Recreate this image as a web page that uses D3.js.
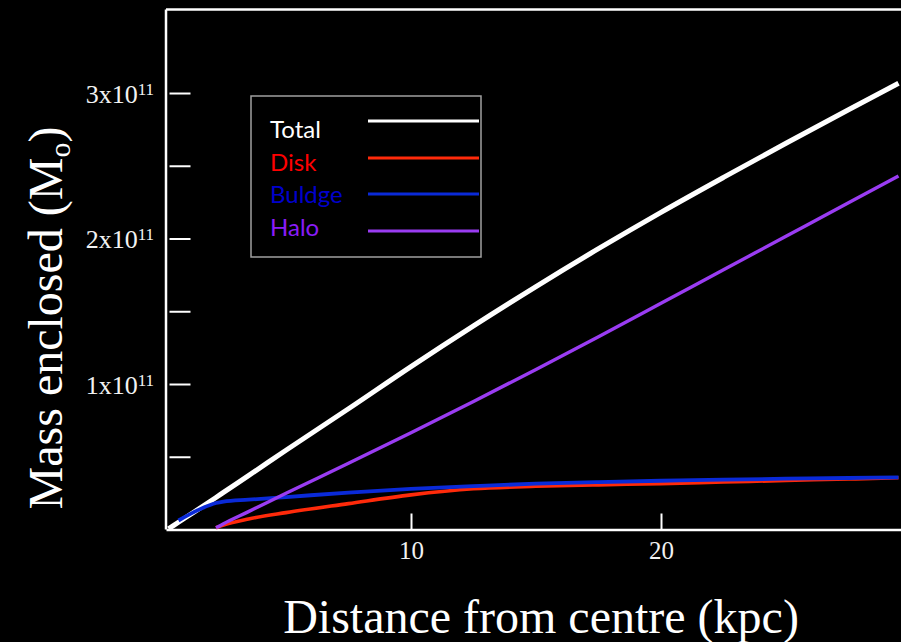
<!DOCTYPE html>
<html>
<head>
<meta charset="utf-8">
<script src="https://cdn.jsdelivr.net/npm/d3@7"></script>
<style>
  html, body { margin: 0; padding: 0; background: #000; }
  svg { display: block; }
</style>
</head>
<body>
<script>
// Enclosed mass of the galaxy by component (units of 1e11 solar masses)
const radius = [0.3, 0.7, 1.5, 2.2, 2.5, 3.5, 5, 7.5, 10, 12.5, 15, 17.5, 20, 22.5, 25, 27.5, 29.5];
const total  = [0.005, 0.05, 0.14, 0.22, 0.255, 0.37, 0.545, 0.83, 1.12, 1.40, 1.67, 1.93, 2.18, 2.42, 2.655, 2.885, 3.067];
const disk   = [null, null, null, 0.012, 0.03, 0.072, 0.116, 0.178, 0.238, 0.28, 0.297, 0.307, 0.315, 0.326, 0.337, 0.347, 0.356];
const bulge  = [null, 0.062, 0.135, 0.182, 0.192, 0.205, 0.223, 0.254, 0.279, 0.298, 0.315, 0.326, 0.335, 0.343, 0.349, 0.354, 0.358];
const halo   = [null, null, null, 0.012, 0.04, 0.123, 0.249, 0.455, 0.665, 0.88, 1.10, 1.325, 1.555, 1.785, 2.015, 2.245, 2.43];

const seriesNames  = ["Total", "Disk", "Buldge", "Halo"];
const seriesValues = [total, disk, bulge, halo];
const lineColors   = ["#ffffff", "#ff2a0a", "#0a2ad8", "#9a3cf2"];
const labelColors  = ["#ffffff", "#ff0000", "#0000cc", "#8a1cf8"];
const lineWidths   = [5, 3.6, 3.8, 3.4];

const yMajorTicks = [1, 2, 3];
const yMinorTicks = [0.5, 1.5, 2.5];
const xTicks = [10, 20];

const W = 901, H = 642;
const svg = d3.select("body").append("svg").attr("width", W).attr("height", H);
svg.append("rect").attr("width", W).attr("height", H).attr("fill", "#000");

const x = d3.scaleLinear().domain([0.2, 29.6]).range([166, 901]);
const y = d3.scaleLinear().domain([0, 3.574]).range([529.5, 9.5]);

const serif = "'Liberation Serif', 'Times New Roman', serif";

// Frame: left and top edges
svg.append("line").attr("x1", 166).attr("x2", 166).attr("y1", 9.5).attr("y2", 529.5)
  .attr("stroke", "#fff").attr("stroke-width", 2.5);
svg.append("line").attr("x1", 166).attr("x2", 901).attr("y1", 9.5).attr("y2", 9.5)
  .attr("stroke", "#fff").attr("stroke-width", 2.5);

// Y ticks point inward, labels drawn separately with superscript exponents
const yAxis = svg.append("g").attr("transform", "translate(169.5,0)")
  .call(d3.axisRight(y).tickValues(yMajorTicks.concat(yMinorTicks)).tickSize(21).tickFormat(""));
yAxis.select(".domain").remove();
yAxis.selectAll(".tick line").attr("stroke", "#fff").attr("stroke-width", 2);

const yLab = svg.append("g");
yMajorTicks.forEach(v => {
  const t = yLab.append("text")
    .attr("x", 154).attr("y", y(v) + 9.5)
    .attr("text-anchor", "end")
    .attr("font-family", serif).attr("font-size", 26).attr("fill", "#f2f2f2");
  t.append("tspan").text(v + "x10");
  t.append("tspan").attr("font-size", 17).attr("dy", -8).text("11");
});

// X axis with inward ticks
const xAxis = svg.append("g").attr("transform", "translate(0,529.5)")
  .call(d3.axisBottom(x).tickValues(xTicks).tickSizeInner(-16).tickSizeOuter(0).tickPadding(12));
xAxis.select(".domain").attr("stroke", "#fff").attr("stroke-width", 2.5);
xAxis.selectAll(".tick line").attr("stroke", "#fff").attr("stroke-width", 2);
xAxis.selectAll(".tick text").attr("font-family", serif).attr("font-size", 25).attr("fill", "#f2f2f2");

// Curves
const line = d3.line()
  .defined(d => d[1] !== null)
  .x(d => x(d[0])).y(d => y(d[1]))
  .curve(d3.curveMonotoneX);

const drawOrder = [0, 1, 2, 3];
drawOrder.forEach(i => {
  const pts = radius.map((r, k) => [r, seriesValues[i][k]]);
  svg.append("path").datum(pts)
    .attr("d", line)
    .attr("fill", "none")
    .attr("stroke", lineColors[i])
    .attr("stroke-width", lineWidths[i])
    .attr("stroke-linejoin", "round");
});

// Legend
const legend = svg.append("g");
legend.append("rect").attr("x", 251).attr("y", 96).attr("width", 230).attr("height", 161)
  .attr("fill", "none").attr("stroke", "#a0a0a0").attr("stroke-width", 1.5);
const textY = [138, 170.5, 203, 235.5];
const lineY = [121, 158, 194, 231];
seriesNames.forEach((name, i) => {
  legend.append("text").attr("x", 270).attr("y", textY[i])
    .attr("font-family", "Lato, 'Open Sans', sans-serif").attr("font-size", 24)
    .attr("fill", labelColors[i]).text(name);
  legend.append("line").attr("x1", 368).attr("x2", 479)
    .attr("y1", lineY[i]).attr("y2", lineY[i])
    .attr("stroke", lineColors[i]).attr("stroke-width", 3);
});

// Axis titles
svg.append("text").attr("x", 541).attr("y", 633)
  .attr("text-anchor", "middle")
  .attr("font-family", serif).attr("font-size", 48).attr("fill", "#fff")
  .text("Distance from centre (kpc)");

const yt = svg.append("text")
  .attr("transform", "translate(62,318) rotate(-90)")
  .attr("text-anchor", "middle")
  .attr("font-family", serif).attr("font-size", 48).attr("fill", "#fff");
yt.append("tspan").text("Mass enclosed (M");
yt.append("tspan").attr("font-size", 30).attr("dy", 8).text("o");
yt.append("tspan").attr("dy", -8).text(")");
</script>
</body>
</html>
